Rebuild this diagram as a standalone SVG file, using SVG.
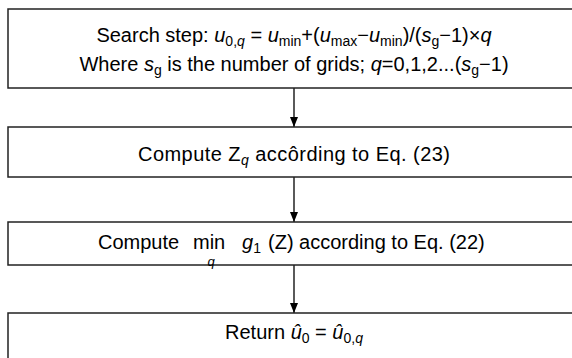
<svg xmlns="http://www.w3.org/2000/svg" width="572" height="358" viewBox="0 0 572 358">
<style>
.box{fill:#fff;stroke:#222;stroke-width:1.5}
.t{font-family:"Liberation Sans",Arial,sans-serif;font-size:20px;fill:#000}
.i{font-style:italic}
.s{font-size:14px}
.c{stroke:#000;stroke-width:1.3;fill:none}
</style>
<defs>
<marker id="ah" markerWidth="10" markerHeight="8" refX="10" refY="4" orient="auto" markerUnits="userSpaceOnUse">
<path d="M0,0 L10,4 L0,8 Z" fill="#000"/>
</marker>
</defs>
<g id="connectors">
<line class="c" x1="294" y1="88" x2="294" y2="127" marker-end="url(#ah)"/>
<line class="c" x1="294" y1="177" x2="294" y2="222" marker-end="url(#ah)"/>
<line class="c" x1="294" y1="265" x2="294" y2="313" marker-end="url(#ah)"/>
</g>
<g id="n1">
<rect class="box" x="8" y="9" width="580" height="79"/>
<text class="t" x="294" y="42" text-anchor="middle">Search step: <tspan class="i">u</tspan><tspan class="s" dy="4">0,<tspan class="i">q</tspan></tspan><tspan dy="-4"> = </tspan><tspan class="i">u</tspan><tspan class="s" dy="4">min</tspan><tspan dy="-4">+(</tspan><tspan class="i">u</tspan><tspan class="s" dy="4">max</tspan><tspan dy="-4">−</tspan><tspan class="i">u</tspan><tspan class="s" dy="4">min</tspan><tspan dy="-4">)/(</tspan><tspan class="i">s</tspan><tspan class="s" dy="4">g</tspan><tspan dy="-4">−1)×</tspan><tspan class="i">q</tspan></text>
<text class="t" x="294" y="71" text-anchor="middle">Where <tspan class="i">s</tspan><tspan class="s" dy="4">g</tspan><tspan dy="-4"> is the number of grids; </tspan><tspan class="i">q</tspan>=0,1,2...(<tspan class="i">s</tspan><tspan class="s" dy="4">g</tspan><tspan dy="-4">−1)</tspan></text>
</g>
<g id="n2">
<rect class="box" x="8" y="127" width="580" height="50"/>
<text class="t" x="294" y="161" text-anchor="middle" textLength="312" lengthAdjust="spacing">Compute Z<tspan class="s i" dy="4">q</tspan><tspan dy="-4"> acco&#x302;rding to Eq. (23)</tspan></text>
</g>
<g id="n3">
<rect class="box" x="8" y="222" width="580" height="43"/>
<text class="t" y="249"><tspan x="98">Compute</tspan><tspan x="193">min</tspan><tspan x="242" class="i">g</tspan><tspan class="s" dy="4">1</tspan><tspan x="268" dy="-4">(Z) according to Eq. (22)</tspan></text>
<text class="t i" x="211" y="266" text-anchor="middle" style="font-size:13px">q</text>
</g>
<g id="n4">
<rect class="box" x="8" y="313" width="580" height="60"/>
<text class="t" x="294" y="339" text-anchor="middle">Return <tspan class="i">u&#x302;</tspan><tspan class="s" dy="4">0</tspan><tspan dy="-4"> = </tspan><tspan class="i">u&#x302;</tspan><tspan class="s" dy="4">0,<tspan class="i">q</tspan></tspan></text>
</g>
</svg>
